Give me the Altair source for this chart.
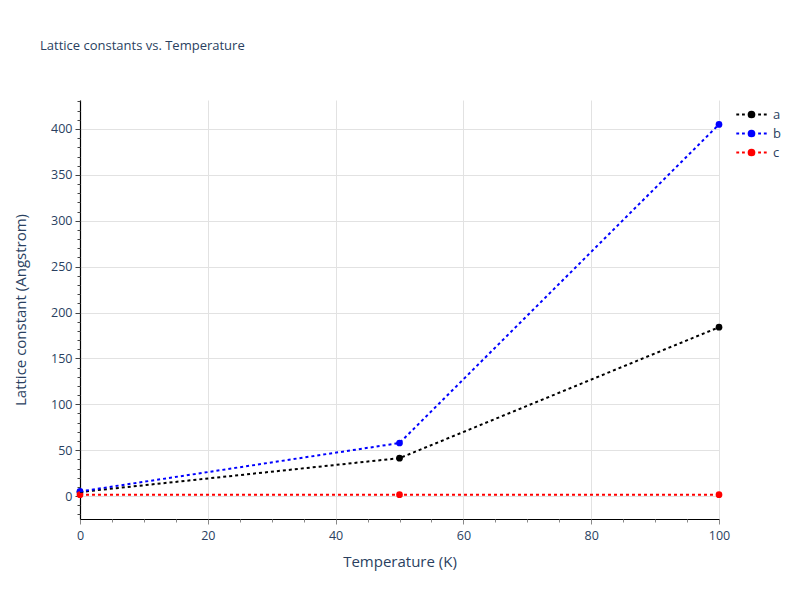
import altair as alt
import pandas as pd

temperature = [0, 50, 100]
series_a = [4.4, 41.3, 184.0]
series_b = [5.0, 57.8, 405.0]
series_c = [1.5, 1.5, 1.5]
series_names = ["a", "b", "c"]
series_colors = ["#000000", "#0000ff", "#ff0000"]

x_major = [0, 20, 40, 60, 80, 100]
x_minor = list(range(0, 101, 5))
y_major = [0, 50, 100, 150, 200, 250, 300, 350, 400]
y_minor = list(range(-20, 431, 10))

rows = []
for name, vals in zip(series_names, [series_a, series_b, series_c]):
    for t, v in zip(temperature, vals):
        rows.append({"Temperature": t, "value": v, "series": name})
df = pd.DataFrame(rows)

FONT = "Open Sans"
TXT = "#2a3f5f"
xscale = alt.Scale(domain=[0, 100], nice=False, zero=False)
yscale = alt.Scale(domain=[-25, 431.6], nice=False, zero=False)

legend_symbol = (
    "M-1.6,0L-1.3,0M-1.0,0L-0.7,0M0.7,0L1.0,0M1.3,0L1.6,0"
    "M-0.3,0A0.3,0.3,0,1,1,0.3,0A0.3,0.3,0,1,1,-0.3,0Z"
)
color = alt.Color(
    "series:N",
    scale=alt.Scale(domain=series_names, range=series_colors),
    legend=alt.Legend(
        title=None,
        orient="none",
        legendX=661,
        legendY=4,
        symbolType=legend_symbol,
        symbolSize=361,
        symbolStrokeWidth=2,
        labelFont=FONT,
        labelFontSize=13,
        labelColor=TXT,
        labelOffset=11,
        rowPadding=1,
    ),
)

xaxis = alt.Axis(
    values=x_major, title="Temperature (K)", grid=True, gridColor="#e2e2e2",
    domainColor="#000000", domainWidth=1.2, tickColor="#888888", tickSize=5,
    labelFont=FONT, labelFontSize=12.5, labelColor=TXT, labelPadding=5,
    labelFlush=False,
    titleFont=FONT, titleFontSize=15, titleFontWeight="normal", titleColor=TXT,
    titlePadding=13, orient="bottom")
yaxis = alt.Axis(
    values=y_major, title="Lattice constant (Angstrom)", grid=True, gridColor="#e2e2e2",
    domainColor="#000000", domainWidth=1.2, tickColor="#444444", tickSize=5,
    labelFont=FONT, labelFontSize=12.5, labelColor=TXT, labelPadding=3,
    labelFlush=False,
    titleFont=FONT, titleFontSize=15, titleFontWeight="normal", titleColor=TXT,
    titlePadding=22, orient="left")

points = alt.Chart(df).mark_point(filled=True, size=45, opacity=1).encode(
    x=alt.X("Temperature:Q", scale=xscale, axis=xaxis),
    y=alt.Y("value:Q", scale=yscale, axis=yaxis),
    color=color,
)

lines = alt.Chart(df).mark_line(strokeDash=[3, 3], strokeWidth=2).encode(
    x=alt.X("Temperature:Q", scale=xscale, axis=None),
    y=alt.Y("value:Q", scale=yscale, axis=None),
    color=color,
)

minor = alt.Chart(df).mark_point(opacity=0).encode(
    x=alt.X("Temperature:Q", scale=xscale, axis=alt.Axis(
        values=x_minor, labels=False, title=None, grid=False, domain=False,
        tickColor="#888888", tickSize=3, orient="bottom")),
    y=alt.Y("value:Q", scale=yscale, axis=alt.Axis(
        values=y_minor, labels=False, title=None, grid=False, domain=False,
        tickColor="#444444", tickSize=3, orient="left")),
)

chart = alt.layer(points, lines, minor).resolve_axis(x="independent", y="independent").properties(
    width=639,
    height=419,
    title=alt.TitleParams(
        "Lattice constants vs. Temperature", anchor="start", frame="group", dx=-40, offset=47,
        font=FONT, fontSize=13, fontWeight="normal", color=TXT),
    autosize=alt.AutoSizeParams(type="none"),
    padding={"left": 72, "top": 92, "right": 70, "bottom": 70},
).configure_view(stroke=None)

chart.save("out.html", embed_options={"renderer": "svg", "actions": False})
